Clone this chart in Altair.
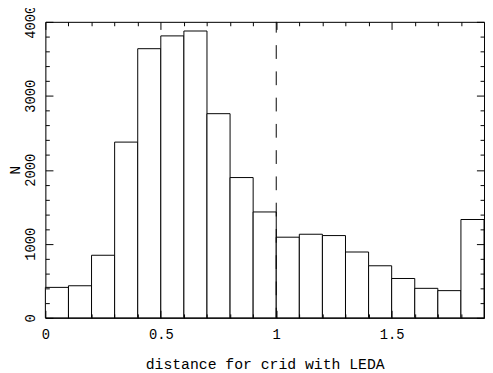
import altair as alt
import pandas as pd

# histogram bins (distance) and counts
bin_lo = [0.0, 0.1, 0.2, 0.3, 0.4, 0.5, 0.6, 0.7, 0.8, 0.9,
          1.0, 1.1, 1.2, 1.3, 1.4, 1.5, 1.6, 1.7, 1.8]
bin_hi = [0.1, 0.2, 0.3, 0.4, 0.5, 0.6, 0.7, 0.8, 0.9, 1.0,
          1.1, 1.2, 1.3, 1.4, 1.5, 1.6, 1.7, 1.8, 1.9]
counts = [412, 434, 846, 2375, 3637, 3810, 3876, 2759, 1896, 1431,
          1090, 1130, 1112, 890, 704, 532, 399, 368, 1329]

cut_x = [1.0]

x_major = [0, 0.5, 1.0, 1.5]
x_minor = [0.1, 0.2, 0.3, 0.4, 0.6, 0.7, 0.8, 0.9, 1.1, 1.2, 1.3, 1.4, 1.6, 1.7, 1.8]
y_major = [0, 1000, 2000, 3000, 4000]
y_minor = [200, 400, 600, 800, 1200, 1400, 1600, 1800, 2200, 2400, 2600, 2800,
           3200, 3400, 3600, 3800]

df = pd.DataFrame({"lo": bin_lo, "hi": bin_hi, "n": counts})
cut_df = pd.DataFrame({"x": cut_x})

FONT = "Liberation Mono"
W, H = 446, 301

xs = alt.Scale(domain=[0, 1.9], nice=False, zero=False)
ys = alt.Scale(domain=[0, 4000], nice=False)

bars = alt.Chart(df).mark_rect(fill="white", stroke="black", strokeWidth=1).encode(
    x=alt.X("lo:Q", scale=xs, axis=alt.Axis(
        orient="bottom", values=x_major, format="~g", ticks=False,
        domain=True, domainColor="black", domainWidth=1,
        gridOpacity=0, labelPadding=10, labelFont=FONT, labelFontSize=14,
        labelColor="black", labelFlush=False, labelOverlap=False,
        title="distance for crid with LEDA", titleFont=FONT, titleFontSize=15,
        titleFontWeight="normal", titleColor="black", titleX=W / 2, titleY=51,
        titleAlign="center", titleBaseline="alphabetic")),
    x2="hi:Q",
    y=alt.Y("n:Q", scale=ys, axis=alt.Axis(
        orient="left", values=y_major, format="d", ticks=False,
        domain=True, domainColor="black", domainWidth=1,
        gridOpacity=0, labelAngle=270, labelAlign="center",
        labelBaseline="alphabetic", labelPadding=11, labelFont=FONT,
        labelFontSize=14, labelColor="black", labelFlush=False,
        labelOverlap=False, labelBound=False,
        title="N", titleFont=FONT, titleFontSize=15, titleFontWeight="normal",
        titleColor="black", titleAngle=270, titleX=-26, titleY=H / 2,
        titleAlign="center", titleBaseline="alphabetic")),
    y2=alt.datum(0),
)


def tick_axis(orient, values, size, domain):
    return alt.Axis(orient=orient, values=values, labels=False, domain=domain,
                    domainColor="black", gridOpacity=0,
                    tickSize={"expr": str(-size)}, tickColor="black",
                    title=None, zindex=1)


def tick_layer(xo, xv, xsz, yo, yv, ysz, domain):
    return alt.Chart(df).mark_point(opacity=0).encode(
        x=alt.X("lo:Q", scale=xs, axis=tick_axis(xo, xv, xsz, domain)),
        y=alt.Y("n:Q", scale=ys, axis=tick_axis(yo, yv, ysz, domain)),
    )


t1 = tick_layer("bottom", x_major, 7.7, "left", y_major, 7.7, False)
t2 = tick_layer("bottom", x_minor, 4, "left", y_minor, 4, False)
t3 = tick_layer("top", x_major, 7.7, "right", y_major, 7.7, True)
t4 = tick_layer("top", x_minor, 4, "right", y_minor, 4, False)

cut = alt.Chart(cut_df).mark_rule(
    color="black", strokeWidth=1, strokeDash=[14, 12.7], strokeDashOffset=3
).encode(x=alt.X("x:Q", scale=xs, axis=None))

chart = alt.layer(bars, cut, t1, t2, t3, t4).resolve_axis(
    x="independent", y="independent"
).properties(
    width=W, height=H,
    padding={"left": 0, "top": -6, "right": 0, "bottom": 0},
)

chart.save("out.html", embed_options={"renderer": "svg", "actions": False})
